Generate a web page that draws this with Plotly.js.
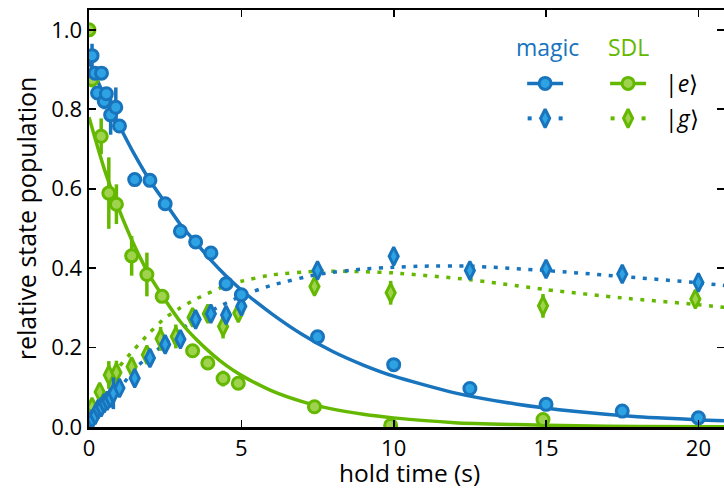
<!DOCTYPE html>
<html>
<head>
<meta charset="utf-8">
<script src="https://cdn.plot.ly/plotly-3.0.1.min.js"></script>
<style>html,body{margin:0;padding:0;background:#fff}#chart{width:724px;height:489px}</style>
</head>
<body>
<div id="chart"></div>
<script>
// ---------- DATA ----------
// magic |e> (blue circles)
const magicEx   = [0.1, 0.2, 0.28, 0.41, 0.5, 0.57, 0.71, 0.88, 1.0, 1.5, 2.0, 2.5, 3.0, 3.5, 4.0, 4.5, 5.0, 7.5, 10, 12.5, 15, 17.5, 20];
const magicEy   = [0.935, 0.891, 0.841, 0.891, 0.82, 0.839, 0.786, 0.805, 0.758, 0.623, 0.621, 0.562, 0.493, 0.466, 0.438, 0.361, 0.333, 0.227, 0.157, 0.097, 0.057, 0.040, 0.023];
const magicEerr = [0.03, 0.01, 0.01, 0.01, 0.02, 0.01, 0.05, 0.05, 0.01, 0.015, 0.01, 0.01, 0.01, 0.01, 0.01, 0.01, 0.01, 0.01, 0.01, 0.01, 0.01, 0.01, 0.01];
// magic |g> (blue diamonds)
const magicGx   = [0.1, 0.2, 0.3, 0.4, 0.5, 0.6, 0.7, 0.8, 1.0, 1.5, 2.0, 2.5, 3.0, 3.5, 4.0, 4.5, 5.0, 7.5, 10, 12.5, 15, 17.5, 20];
const magicGy   = [0.02, 0.03, 0.045, 0.05, 0.06, 0.066, 0.073, 0.085, 0.098, 0.123, 0.174, 0.208, 0.221, 0.271, 0.285, 0.282, 0.304, 0.394, 0.43, 0.394, 0.398, 0.385, 0.364];
const magicGerr = [0.01, 0.01, 0.01, 0.01, 0.01, 0.01, 0.02, 0.04, 0.01, 0.015, 0.01, 0.01, 0.01, 0.01, 0.01, 0.01, 0.01, 0.015, 0.02, 0.01, 0.01, 0.01, 0.015];
// SDL |e> (green circles)
const sdlEx     = [0, 0.1, 0.4, 0.65, 0.9, 1.4, 1.9, 2.4, 3.4, 3.9, 4.4, 4.9, 7.4, 9.9, 14.9];
const sdlEy     = [1.0, 0.875, 0.732, 0.589, 0.561, 0.431, 0.384, 0.329, 0.192, 0.161, 0.122, 0.11, 0.051, 0.004, 0.019];
const sdlEerr   = [0, 0.02, 0.045, 0.09, 0.05, 0.05, 0.055, 0.01, 0.01, 0.01, 0.02, 0.01, 0.01, 0.01, 0.01];
// SDL |g> (green diamonds)
const sdlGx     = [0.1, 0.35, 0.65, 0.9, 1.4, 1.9, 2.35, 2.85, 3.4, 3.9, 4.4, 4.9, 7.4, 9.9, 14.9, 19.9];
const sdlGy     = [0.05, 0.088, 0.131, 0.137, 0.152, 0.182, 0.222, 0.228, 0.276, 0.285, 0.253, 0.287, 0.354, 0.338, 0.305, 0.322];
const sdlGerr   = [0.01, 0.02, 0.035, 0.03, 0.02, 0.02, 0.03, 0.03, 0.01, 0.01, 0.03, 0.01, 0.02, 0.03, 0.03, 0.02];

// fitted curves
const eFitX       = [0, 0.5, 1, 1.5, 2, 2.5, 3, 3.5, 4, 4.5, 5, 6, 7, 8, 9, 10, 12, 14, 16, 18, 21];
const magicEfitY  = [0.92, 0.835, 0.758, 0.685, 0.62, 0.565, 0.51, 0.465, 0.42, 0.38, 0.345, 0.285, 0.233, 0.19, 0.156, 0.128, 0.086, 0.058, 0.039, 0.026, 0.015];
const sdlEfitY    = [0.78, 0.65, 0.545, 0.455, 0.38, 0.32, 0.265, 0.222, 0.186, 0.155, 0.13, 0.091, 0.064, 0.045, 0.032, 0.023, 0.011, 0.006, 0.003, 0.0015, 0.0005];
const magicGfitX  = [0, 0.5, 1, 1.5, 2, 2.5, 3, 4, 5, 6, 7.5, 9, 10, 11, 12.5, 15, 17.5, 20, 21];
const magicGfitY  = [0, 0.05, 0.095, 0.147, 0.18, 0.21, 0.245, 0.292, 0.33, 0.357, 0.384, 0.398, 0.402, 0.405, 0.405, 0.394, 0.379, 0.363, 0.355];
const sdlGfitX    = [0, 0.5, 1, 1.5, 2, 2.5, 3, 3.5, 4.5, 5, 6, 7.5, 9, 10, 12.5, 15, 17.5, 20, 21];
const sdlGfitY    = [0, 0.085, 0.152, 0.197, 0.238, 0.275, 0.30, 0.322, 0.356, 0.367, 0.383, 0.392, 0.391, 0.388, 0.371, 0.346, 0.325, 0.308, 0.30];

const xTicks = [0, 5, 10, 15, 20];
const yTicks = [0, 0.2, 0.4, 0.6, 0.8, 1.0];
const yTickText = ['0.0', '0.2', '0.4', '0.6', '0.8', '1.0'];
const groupNames = ['magic', 'SDL'];
const stateNames = ['|<i>e</i>⟩', '|<i>g</i>⟩'];
const xTitle = 'hold time (s)';
const yTitle = 'relative state population';

// ---------- STYLE ----------
const BLUE = '#1874bd', BLUE_FILL = '#2ea3e3';
const GREEN = '#64b800', GREEN_FILL = '#9fd34e';
const FONT = '"Open Sans", "Noto Sans", sans-serif';
const DOT = '4px,7.5px';
const CIRC = 12, DIAM = 13;

function fit(x, y, color, dash) {
  return {x, y, type: 'scatter', mode: 'lines', line: {color, width: 3.5, dash, shape: 'spline', smoothing: 0.6}, hoverinfo: 'skip'};
}
function pts(x, y, err, color, fill, symbol, size) {
  return {x, y, type: 'scatter', mode: 'markers',
    marker: {symbol, size, color: fill, line: {color, width: 3}},
    error_y: {type: 'data', array: err, visible: true, color, thickness: 3.5, width: 0}};
}

const traces = [
  fit(sdlGfitX, sdlGfitY, GREEN, DOT),
  fit(magicGfitX, magicGfitY, BLUE, DOT),
  fit(eFitX, sdlEfitY, GREEN, 'solid'),
  fit(eFitX, magicEfitY, BLUE, 'solid'),
  pts(sdlGx, sdlGy, sdlGerr, GREEN, GREEN_FILL, 'diamond-tall', DIAM),
  pts(magicGx, magicGy, magicGerr, BLUE, BLUE_FILL, 'diamond-tall', DIAM),
  pts(sdlEx, sdlEy, sdlEerr, GREEN, GREEN_FILL, 'circle', CIRC),
  pts(magicEx, magicEy, magicEerr, BLUE, BLUE_FILL, 'circle', CIRC)
];

// ---------- LEGEND (drawn on an overlay axis measured in page pixels) ----------
const L = {colX: [545, 628], rowY: [83.5, 118.5], half: 18, dotOff: 15.5, labelX: 663, headY: 47};
const legendColors = [[BLUE, BLUE_FILL], [GREEN, GREEN_FILL]];
const keyBase = {xaxis: 'x2', yaxis: 'y2', type: 'scatter', cliponaxis: false, hoverinfo: 'skip'};
legendColors.forEach(([c, f], i) => {
  const cx = L.colX[i];
  traces.push(Object.assign({}, keyBase, {x: [cx - L.half, cx + L.half], y: [L.rowY[0], L.rowY[0]], mode: 'lines',
    line: {color: c, width: 3.5}}));
  traces.push(Object.assign({}, keyBase, {x: [cx], y: [L.rowY[0]], mode: 'markers',
    marker: {symbol: 'circle', size: CIRC, color: f, line: {color: c, width: 3}}}));
  traces.push(Object.assign({}, keyBase, {x: [cx - L.dotOff, cx + L.dotOff], y: [L.rowY[1], L.rowY[1]], mode: 'markers',
    marker: {symbol: 'square', size: 4, color: c, line: {width: 0}}}));
  traces.push(Object.assign({}, keyBase, {x: [cx], y: [L.rowY[1]], mode: 'markers',
    marker: {symbol: 'diamond-tall', size: DIAM, color: f, line: {color: c, width: 3}}}));
});

const annotations = [
  {text: groupNames[0], x: L.colX[0] + 2, y: L.headY, font: {color: BLUE}},
  {text: groupNames[1], x: L.colX[1], y: L.headY, font: {color: GREEN}},
  {text: stateNames[0], x: L.labelX, y: L.rowY[0], xanchor: 'left', font: {color: '#000'}},
  {text: stateNames[1], x: L.labelX, y: L.rowY[1], xanchor: 'left', font: {color: '#000'}},
  {text: xTitle, x: 409.5, yref: 'paper', y: -0.109, font: {color: '#000', size: 24.5}}
].map(a => Object.assign({xref: 'x2', yref: 'y2', showarrow: false, yanchor: 'middle', xanchor: 'center'}, a,
  {font: Object.assign({family: FONT, size: 23}, a.font)}));

const axisCommon = {showline: true, linecolor: '#000', linewidth: 2.5, mirror: 'allticks', ticks: 'inside', ticklen: 7,
  tickwidth: 1.6, tickcolor: '#000', showgrid: false, zeroline: false, tickfont: {family: FONT, size: 22, color: '#000'}};

const layout = {
  width: 724, height: 489,
  margin: {l: 88.5, r: 0, t: 10, b: 61.5},
  paper_bgcolor: '#fff', plot_bgcolor: '#fff',
  showlegend: false,
  font: {family: FONT, color: '#000'},
  xaxis: Object.assign({}, axisCommon, {range: [0, 20.84], tickvals: xTicks}),
  yaxis: Object.assign({}, axisCommon, {range: [0, 1.05], tickvals: yTicks, ticktext: yTickText,
    title: {text: yTitle, font: {family: FONT, size: 25, color: '#000'}, standoff: 8}}),
  xaxis2: {overlaying: 'x', anchor: 'y2', range: [88.5, 724], visible: false, fixedrange: true},
  yaxis2: {overlaying: 'y', anchor: 'x2', range: [427.5, 10], visible: false, fixedrange: true},
  annotations
};

Plotly.newPlot('chart', traces, layout, {displayModeBar: false, staticPlot: true});
</script>
</body>
</html>
